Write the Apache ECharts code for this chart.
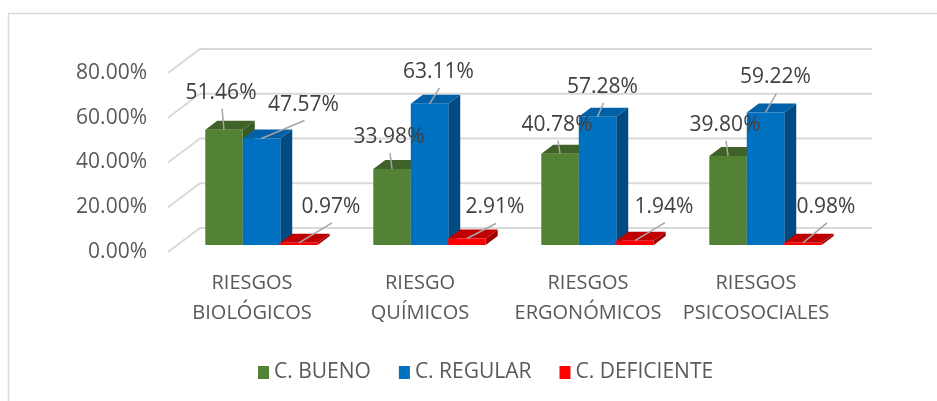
<!DOCTYPE html>
<html>
<head>
<meta charset="utf-8">
<script src="https://cdn.jsdelivr.net/npm/echarts@6/dist/echarts.min.js"></script>
<style>
  html, body { margin: 0; padding: 0; background: #fff; }
  #chart { width: 937px; height: 401px; }
</style>
</head>
<body>
<div id="chart"></div>
<script>
const categories = ['RIESGOS\nBIOLÓGICOS', 'RIESGO\nQUÍMICOS', 'RIESGOS\nERGONÓMICOS', 'RIESGOS\nPSICOSOCIALES'];
const seriesNames = ['C. BUENO', 'C. REGULAR', 'C. DEFICIENTE'];
const bueno = [51.46, 33.98, 40.78, 39.80];
const regular = [47.57, 63.11, 57.28, 59.22];
const deficiente = [0.97, 2.91, 1.94, 0.98];
const yTicks = [0, 20, 40, 60, 80];

// where each data label sits, relative to the top of its bar (px)
const labelShift = [
  [[-3, -37], [-3, -32], [-3, -29], [-3, -31]],
  [[42, -34], [9, -32], [5, -30], [10, -35]],
  [[32, -36], [28, -31], [29, -34], [23, -36]]
];

const faces = [
  { front: '#548235', top: '#3f6229', side: '#3a5a25' },
  { front: '#0070c0', top: '#0061a8', side: '#004b82' },
  { front: '#ff0000', top: '#c00000', side: '#a00000' }
];

const FONT = '"Open Sans", "Noto Sans", sans-serif';
const DEPTH_X = 32, DEPTH_Y = -24;  // back wall offset
const BAR_X = 9.5, BAR_Y = -7;      // bars front face offset
const BX = 12, BY = -9;             // bar thickness

const chart = echarts.init(document.getElementById('chart'));

// back wall gridlines + side lines
function wallRenderer(params, api) {
  const v = api.value(1);
  const cs = params.coordSys;
  const y = api.coord([0, v])[1];
  const x0 = cs.x, x1 = cs.x + cs.width;
  return {
    type: 'polyline',
    shape: { points: [[x0, y], [x0 + DEPTH_X, y + DEPTH_Y], [x1 + DEPTH_X, y + DEPTH_Y]] },
    style: { stroke: '#d9d9d9', lineWidth: 2, fill: null }
  };
}

function barRenderer(s) {
  return function (params, api) {
    const i = api.value(0), v = api.value(1);
    const base = api.coord([i, 0]);
    const top = api.coord([i, v]);
    const band = api.size([1, 0])[0];
    const w = band * 0.223;
    const left = base[0] - 1.5 * w + s * w + BAR_X;
    const right = left + w;
    const yb = base[1] + BAR_Y, yt = top[1] + BAR_Y;
    const c = faces[s];
    const cx = left + w / 2;
    const sh = labelShift[s][params.dataIndex];
    const tx = cx + sh[0], ty = yt + sh[1];
    return {
      type: 'group',
      children: [
        { type: 'polygon', shape: { points: [[right, yb], [right + BX, yb + BY], [right + BX, yt + BY], [right, yt]] }, style: { fill: c.side } },
        { type: 'polygon', shape: { points: [[left, yt], [left + BX, yt + BY], [right + BX, yt + BY], [right, yt]] }, style: { fill: c.top } },
        { type: 'rect', shape: { x: left, y: yt, width: w, height: yb - yt }, style: { fill: c.front } },
        { type: 'line', z2: 90, shape: { x1: tx + 1, y1: ty + 16, x2: cx, y2: yt }, style: { stroke: '#a6a6a6', lineWidth: 1.5 } },
        { type: 'text', z2: 100, style: { text: v.toFixed(2) + '%', x: tx, y: ty, align: 'center', verticalAlign: 'middle', fill: '#404040', fontSize: 21, fontFamily: FONT } }
      ]
    };
  };
}

const values = [bueno, regular, deficiente];

chart.setOption({
  animation: false,
  graphic: [{
    type: 'rect', silent: true,
    shape: { x: 8.5, y: 13.5, width: 1000, height: 500 },
    style: { fill: null, stroke: '#d9d9d9', lineWidth: 1.5 }
  }],
  grid: { left: 168, right: 97, top: 73, bottom: 149 },
  legend: {
    data: seriesNames,
    icon: 'rect',
    itemWidth: 11, itemHeight: 13, itemGap: 28,
    left: 253, top: 357,
    textStyle: { fontSize: 21, color: '#595959', fontFamily: FONT }
  },
  xAxis: {
    type: 'category',
    data: categories,
    axisLine: { show: false },
    axisTick: { show: false },
    axisLabel: { interval: 0, margin: 16, lineHeight: 30, fontSize: 20, color: '#595959', fontFamily: FONT }
  },
  yAxis: {
    type: 'value',
    min: 0, max: 80, interval: 20,
    axisLine: { show: false },
    axisTick: { show: false },
    splitLine: { show: false },
    axisLabel: { margin: 21, fontSize: 21, color: '#595959', fontFamily: FONT, formatter: v => v.toFixed(2) + '%' }
  },
  series: [
    { type: 'custom', name: 'wall', silent: true, z: 1, renderItem: wallRenderer, data: yTicks.map(v => [0, v]) }
  ].concat(seriesNames.map((name, s) => ({
    type: 'custom',
    name: name,
    itemStyle: { color: faces[s].front },
    renderItem: barRenderer(s),
    encode: { x: 0, y: 1 },
    data: values[s].map((v, i) => [i, v])
  })))
});
</script>
</body>
</html>
